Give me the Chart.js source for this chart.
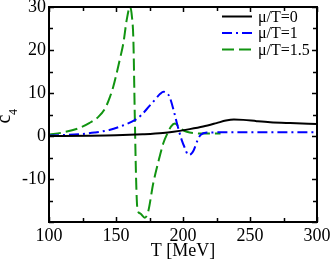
<!DOCTYPE html>
<html>
<head>
<meta charset="utf-8">
<script src="https://cdn.jsdelivr.net/npm/chart.js@4"></script>
<style>
html, body { margin: 0; padding: 0; background: #fff; }
#wrap { width: 333px; height: 260px; }
</style>
</head>
<body>
<div id="wrap"><canvas id="canvas"></canvas></div>
<script>
const ctx = document.getElementById('canvas');

// mu/T = 0
const T_MU0 = [100, 130, 150, 170, 185, 193, 205, 215, 225, 232, 238, 245, 255, 265, 280, 300];
const C4_MU0 = [0, 0.05, 0.15, 0.4, 0.7, 1.0, 1.6, 2.2, 3.0, 3.6, 3.85, 3.75, 3.45, 3.2, 3.0, 2.8];

// mu/T = 1
const T_MU1 = [100, 110, 122, 134, 145, 154, 164, 169, 175, 179, 183, 185.5, 188, 190, 193, 195.5, 199, 201, 204, 206, 208, 211, 213, 218, 228, 300];
const C4_MU1 = [0.1, 0.2, 0.4, 0.8, 1.4, 2.3, 3.7, 4.9, 7.0, 8.4, 9.8, 10.3, 9.9, 9.1, 6.0, 2.9, -0.9, -2.5, -4.4, -4.2, -3.3, -0.9, 0.2, 0.8, 0.85, 0.85];

// mu/T = 1.5
const T_MU15 = [100, 110, 122, 130, 137, 142, 145.5, 148, 150.5, 153, 155.5, 158, 160.4, 161.8, 163, 164, 165, 166, 168, 171.5, 174, 177.8, 181.6, 185.3, 189, 191, 194, 197.8, 202.8, 212.7, 228];
const C4_MU15 = [0.3, 0.8, 1.8, 3.0, 4.5, 6.5, 9.1, 11.5, 14.6, 18, 21.6, 27, 30, 28, 22, 5, -10, -17, -18, -19, -17.6, -11, -6, -1.7, 1, 2.2, 2.9, 1.8, 1.0, 0.6, 0.6];

const LABELS = ['\u03bc/T=0', '\u03bc/T=1', '\u03bc/T=1.5'];
const X_TICKS = [100, 150, 200, 250, 300];
const Y_TICKS = [-10, 0, 10, 20, 30];

function toPoints(xs, ys) {
  return xs.map(function(x, i) { return { x: x, y: ys[i] }; });
}

const SERIF = "'Liberation Serif', 'DejaVu Serif', serif";

const frame = {
  id: 'frame',
  afterDatasetsDraw(chart) {
    const c = chart.ctx;
    const a = chart.chartArea;
    const sx = chart.scales.x;
    const sy = chart.scales.y;
    c.save();
    c.strokeStyle = '#000';
    c.lineWidth = 1.5;
    for (let v = 100; v <= 300; v += 25) {
      const px = Math.round(sx.getPixelForValue(v)) + 0.5;
      const len = v % 50 === 0 ? 5 : 4;
      c.beginPath();
      c.moveTo(px, a.bottom); c.lineTo(px, a.bottom - len);
      c.moveTo(px, a.top); c.lineTo(px, a.top + len);
      c.stroke();
    }
    for (let v = -20; v <= 30; v += 5) {
      const py = Math.round(sy.getPixelForValue(v)) + 0.5;
      const len = v % 10 === 0 ? 5 : 4;
      c.beginPath();
      c.moveTo(a.left, py); c.lineTo(a.left + len, py);
      c.moveTo(a.right, py); c.lineTo(a.right - len, py);
      c.stroke();
    }
    c.lineWidth = 2;
    c.strokeRect(a.left, a.top, a.right - a.left, a.bottom - a.top);

    // legend
    const rows = [16.5, 33, 49.5];
    chart.data.datasets.forEach(function(ds, i) {
      c.strokeStyle = ds.borderColor;
      c.lineWidth = ds.borderWidth;
      c.setLineDash(ds.borderDash || []);
      c.beginPath();
      c.moveTo(a.right - 95, rows[i]);
      c.lineTo(a.right - 65, rows[i]);
      c.stroke();
      c.setLineDash([]);
      c.fillStyle = '#000';
      c.font = '16px ' + SERIF;
      c.textBaseline = 'middle';
      c.textAlign = 'left';
      c.fillText(ds.label, a.right - 59, rows[i] + 1);
    });

    // y axis title c_4
    c.translate(9.5, 123.5);
    c.rotate(-Math.PI / 2);
    c.fillStyle = '#000';
    c.textBaseline = 'alphabetic';
    c.font = '20px ' + SERIF;
    c.fillText('c', 0, 0);
    c.font = '12px ' + SERIF;
    c.fillText('4', 8.5, 7);
    c.restore();
  }
};

const config = {
  type: 'line',
  data: {
    datasets: [
      {
        label: LABELS[0],
        data: toPoints(T_MU0, C4_MU0),
        borderColor: '#000000',
        borderWidth: 2
      },
      {
        label: LABELS[1],
        data: toPoints(T_MU1, C4_MU1),
        borderColor: '#0000ff',
        borderWidth: 2,
        borderDash: [10, 4, 2, 4]
      },
      {
        label: LABELS[2],
        data: toPoints(T_MU15, C4_MU15),
        borderColor: '#119411',
        borderWidth: 2,
        borderDash: [12, 5]
      }
    ]
  },
  options: {
    responsive: true,
    maintainAspectRatio: false,
    animation: false,
    layout: {
      padding: { top: 7, right: 16, left: 0, bottom: 0 }
    },
    elements: {
      point: { radius: 0 },
      line: { cubicInterpolationMode: 'monotone' }
    },
    plugins: {
      legend: { display: false },
      tooltip: { enabled: false }
    },
    scales: {
      x: {
        type: 'linear',
        min: 100,
        max: 300,
        afterFit: function(s) { s.height = 38; s.paddingLeft = 0; s.paddingRight = 0; },
        afterBuildTicks: function(s) { s.ticks = X_TICKS.map(function(v) { return { value: v }; }); },
        grid: { display: false, drawTicks: false },
        border: { display: false },
        ticks: {
          color: '#000',
          padding: 3,
          maxRotation: 0,
          font: { family: SERIF, size: 18 }
        },
        title: {
          display: true,
          text: 'T [MeV]',
          color: '#000',
          padding: { top: 0, bottom: -2 },
          font: { family: SERIF, size: 18 }
        }
      },
      y: {
        min: -20,
        max: 30,
        afterFit: function(s) { s.width = 49; s.paddingTop = 0; s.paddingBottom = 0; },
        afterBuildTicks: function(s) { s.ticks = Y_TICKS.map(function(v) { return { value: v }; }); },
        grid: { display: false, drawTicks: false },
        border: { display: false },
        ticks: {
          color: '#000',
          padding: 3,
          font: { family: SERIF, size: 18 }
        }
      }
    }
  },
  plugins: [frame]
};

new Chart(ctx, config);
</script>
</body>
</html>
